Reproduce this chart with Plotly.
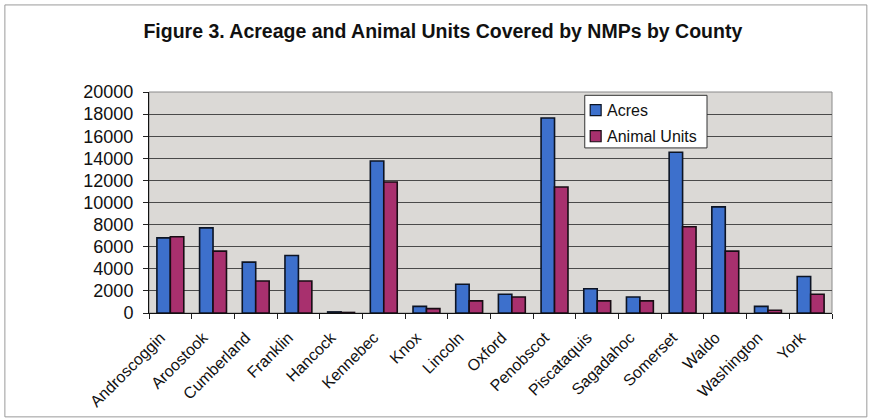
import plotly.graph_objects as go

counties = ["Androscoggin", "Aroostook", "Cumberland", "Franklin", "Hancock",
            "Kennebec", "Knox", "Lincoln", "Oxford", "Penobscot", "Piscataquis",
            "Sagadahoc", "Somerset", "Waldo", "Washington", "York"]
acres = [6800, 7700, 4600, 5200, 100, 13750, 600, 2600, 1700, 17650, 2200,
         1450, 14550, 9600, 600, 3300]
animal_units = [6900, 5600, 2900, 2900, 50, 11850, 400, 1100, 1450, 11400, 1100,
                1100, 7800, 5600, 250, 1700]
y_ticks = [0, 2000, 4000, 6000, 8000, 10000, 12000, 14000, 16000, 18000, 20000]

FONT = "Liberation Sans, Arial, sans-serif"
BLUE, BLUE_EDGE = "#3d70cc", "#0c1424"
PLUM, PLUM_EDGE = "#a8306e", "#180c14"

fig = go.Figure()
fig.add_trace(go.Bar(
    x=counties, y=acres, name="Acres",
    marker=dict(color=BLUE, line=dict(color=BLUE_EDGE, width=1.6)),
))
fig.add_trace(go.Bar(
    x=counties, y=animal_units, name="Animal Units",
    marker=dict(color=PLUM, line=dict(color=PLUM_EDGE, width=1.6)),
))

# compact boxed legend inside the plot area (paper coordinates)
legend_box = dict(x0=0.638, x1=0.817, y0=0.747, y1=0.985)
legend_rows = [("Acres", BLUE, BLUE_EDGE, 0.918), ("Animal Units", PLUM, PLUM_EDGE, 0.80)]
shapes = [
    # plot area border
    dict(type="rect", xref="paper", yref="paper", x0=0, x1=1, y0=0, y1=1,
         line=dict(color="#8a8a8a", width=1), layer="below"),
    # outer frame around the whole figure
    dict(type="rect", xref="paper", yref="paper",
         x0=-0.211, x1=1.051, y0=-0.47, y1=1.394,
         line=dict(color="#9a9a9a", width=1)),
    dict(type="rect", xref="paper", yref="paper", **legend_box,
         fillcolor="white", line=dict(color="#333333", width=1)),
]
annotations = []
for label, fill, edge, yc in legend_rows:
    shapes.append(dict(type="rect", xref="paper", yref="paper",
                       x0=0.646, x1=0.662, y0=yc - 0.025, y1=yc + 0.025,
                       fillcolor=fill, line=dict(color=edge, width=1.2)))
    annotations.append(dict(xref="paper", yref="paper", x=0.667, y=yc,
                            xanchor="left", yanchor="middle", showarrow=False,
                            text=label,
                            font=dict(family=FONT, size=16, color="#111111")))

fig.update_layout(
    width=870, height=420,
    margin=dict(l=149, r=38, t=92, b=107),
    paper_bgcolor="white",
    plot_bgcolor="#dbd9d6",
    barmode="group", bargap=0.37, bargroupgap=0.0,
    font=dict(family=FONT, color="#111111"),
    title=dict(
        text="<b>Figure 3. Acreage and Animal Units Covered by NMPs by County</b>",
        x=0.509, xanchor="center", y=0.925, yanchor="middle",
        font=dict(family=FONT, size=19.5, color="#111111"),
    ),
    showlegend=False,
    xaxis=dict(
        type="category", automargin=False,
        tickangle=-45,
        tickfont=dict(family=FONT, size=16, color="#111111"),
        ticks="outside", tickson="boundaries", ticklen=5,
        tickcolor="#222222", ticklabelstandoff=8, ticklabelshift=-10,
        showline=True, linecolor="#111111", linewidth=1,
        showgrid=False,
    ),
    yaxis=dict(
        range=[0, 20000], automargin=False,
        tickvals=y_ticks,
        ticktext=[str(v) for v in y_ticks],
        tickfont=dict(family=FONT, size=18, color="#111111"),
        ticks="outside", ticklen=5, tickcolor="#222222",
        ticklabelstandoff=6,
        showline=True, linecolor="#111111", linewidth=1,
        showgrid=True, gridcolor="#4a4a4a", gridwidth=1,
        zeroline=False,
    ),
    shapes=shapes,
    annotations=annotations,
)

fig.write_html("out.html")
